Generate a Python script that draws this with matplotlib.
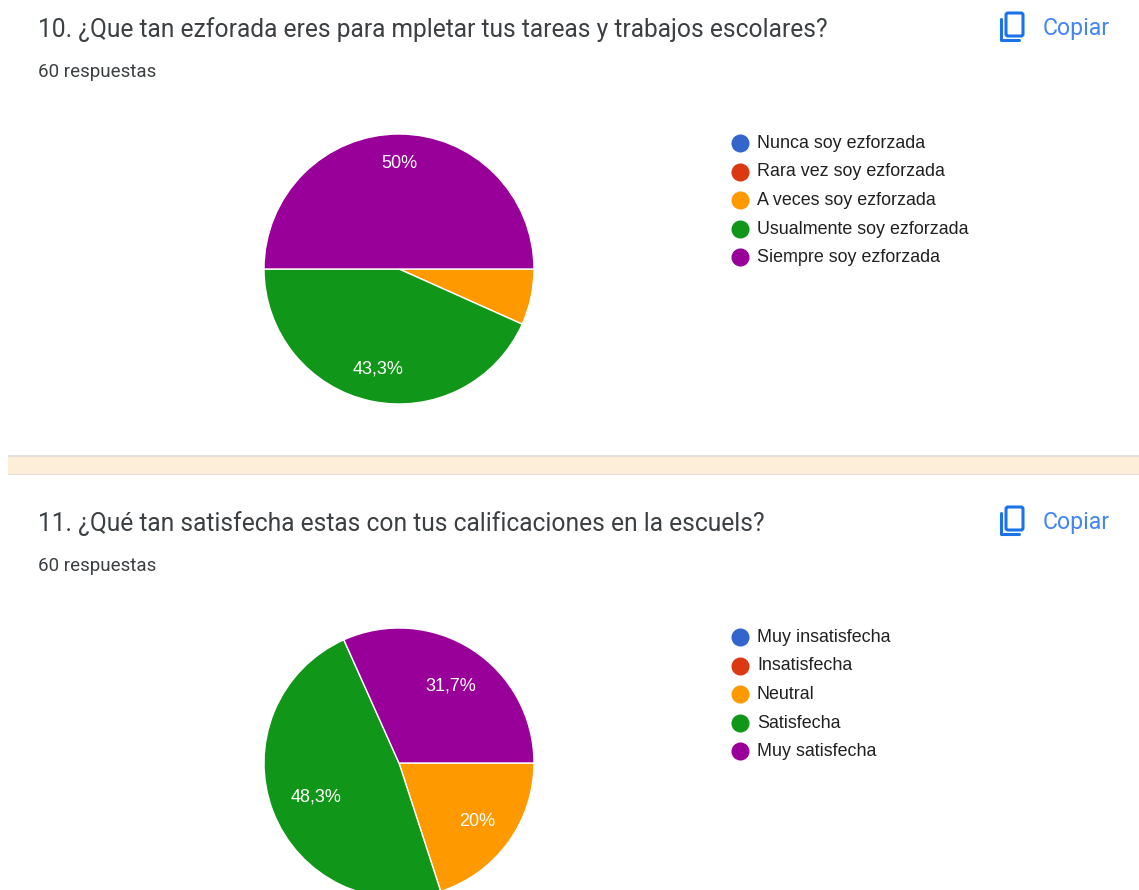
import matplotlib
matplotlib.use('Agg')
import matplotlib.pyplot as plt
from matplotlib.patches import Rectangle, FancyBboxPatch

# ----------------------
# Data
# ----------------------
title_10 = '10. ¿Que tan ezforada eres para mpletar tus tareas y trabajos escolares?'
title_11 = '11. ¿Qué tan satisfecha estas con tus calificaciones en la escuels?'
responses = '60 respuestas'
labels_10 = ['Nunca soy ezforzada', 'Rara vez soy ezforzada', 'A veces soy ezforzada',
             'Usualmente soy ezforzada', 'Siempre soy ezforzada']
labels_11 = ['Muy insatisfecha', 'Insatisfecha', 'Neutral', 'Satisfecha', 'Muy satisfecha']
values_10 = [0, 0, 6.7, 43.3, 50]
values_11 = [0, 0, 20, 48.3, 31.7]
colors = ['#3366cc', '#dc3912', '#ff9900', '#109618', '#990099']

W, H = 1139, 890
fig = plt.figure(figsize=(W / 100, H / 100), dpi=100, facecolor='white')

# overlay in pixel coordinates for text and page furniture
page = fig.add_axes([0, 0, 1, 1])
page.set_xlim(0, W)
page.set_ylim(H, 0)
page.axis('off')


def pct_label(p):
    # small slices get no label, like in Google Forms
    if p < 10:
        return ''
    return f'{p:.1f}'.replace('.', ',').replace(',0', '') + '%'


def draw_pie(values, cy, dist, nudges):
    cx, r = 399, 135
    ax = fig.add_axes([(cx - r) / W, 1 - (cy + r) / H, 2 * r / W, 2 * r / H])
    _, _, pct_texts = ax.pie(values, colors=colors, startangle=0, counterclock=False, radius=1,
                             autopct=pct_label, pctdistance=dist,
                             wedgeprops={'edgecolor': 'white', 'linewidth': 1.0},
                             textprops={'color': 'white', 'fontsize': 13,
                                        'family': 'Liberation Sans'})
    # small pixel corrections for the label spots
    for t, (dx, dy) in zip(pct_texts, nudges):
        x, y = t.get_position()
        t.set_position((x + dx / r, y - dy / r))
    ax.set_xlim(-1, 1)
    ax.set_ylim(-1, 1)


def draw_legend(labels, y0):
    for i, lab in enumerate(labels):
        y = y0 + i * 28.5
        page.plot(740, y, 'o', ms=13, color=colors[i], mew=0)
        page.text(757, y + 0.5, lab, fontsize=12.9, family='Liberation Sans',
                  color='#212121', va='center', ha='left')


def draw_copy(y0):
    # copy icon
    blue = '#1a73e8'
    page.add_patch(FancyBboxPatch((1006, y0 - 14), 17, 23, boxstyle='round,pad=0,rounding_size=2',
                                  fill=False, ec=blue, lw=2.2))
    page.plot([1001, 1001, 1019], [y0 - 8, y0 + 13, y0 + 13], color=blue, lw=2.2,
              solid_capstyle='round', solid_joinstyle='round')
    page.text(1043, y0 + 1, 'Copiar', fontsize=16.6, family='Roboto', color='#4285f4',
              va='center', ha='left')


# question 10
page.text(38, 30, title_10, fontsize=17.7, family='Roboto', color='#3c4043', va='center')
page.text(38, 72, responses, fontsize=13.5, family='Roboto', color='#3c4043', va='center')
draw_copy(27)
draw_legend(labels_10, 143)

# separator band
page.add_patch(Rectangle((8, 455), W - 8, 20, fc='#e3e0dc', ec='none'))
page.add_patch(Rectangle((8, 456.5), W - 8, 17, fc='#fdeed9', ec='none'))

# question 11
page.text(38, 524, title_11, fontsize=17.7, family='Roboto', color='#3c4043', va='center')
page.text(38, 566, responses, fontsize=13.5, family='Roboto', color='#3c4043', va='center')
draw_copy(521)
draw_legend(labels_11, 637)

draw_pie(values_10, 269, 0.77, [(0, 0), (0, 0), (0, 0), (1, -2), (0, -2)])
draw_pie(values_11, 763, 0.7, [(0, 0), (0, 0), (2, 3), (5, 0), (0, 2)])

fig.savefig('out.png', dpi=100)
